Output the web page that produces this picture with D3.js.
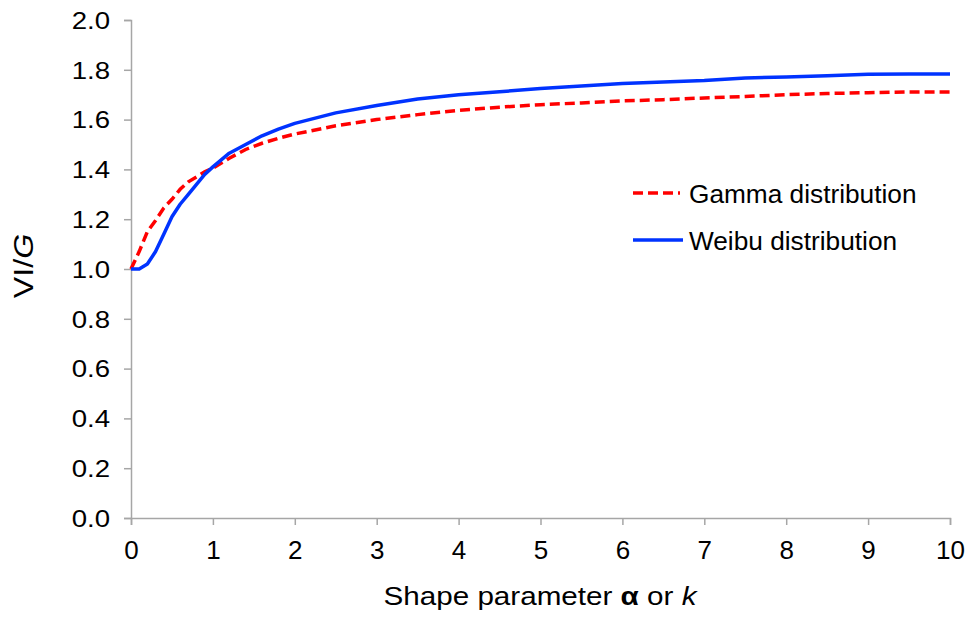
<!DOCTYPE html>
<html>
<head>
<meta charset="utf-8">
<script src="https://cdn.jsdelivr.net/npm/d3@7/dist/d3.min.js"></script>
<style>
  body { margin: 0; background: #fff; }
  text { font-family: "Liberation Sans", Arial, sans-serif; fill: #000; }
</style>
</head>
<body>
<div id="chart"></div>
<script>
// shape parameter values
const shapeX = [0, 0.1, 0.2, 0.3, 0.4, 0.5, 0.6, 0.7, 0.8, 0.9, 1.0,
  1.2, 1.4, 1.6, 1.8, 2.0, 2.5, 3.0, 3.5, 4.0, 4.5, 5.0, 5.5, 6.0,
  6.5, 7.0, 7.5, 8.0, 8.5, 9.0, 9.5, 10];

const gammaVals = [1.00, 1.07, 1.15, 1.195, 1.245, 1.28, 1.32, 1.35, 1.37, 1.39, 1.405,
  1.445, 1.48, 1.505, 1.525, 1.542, 1.575, 1.60, 1.62, 1.637, 1.65, 1.66, 1.667, 1.675,
  1.68, 1.687, 1.693, 1.70, 1.705, 1.708, 1.711, 1.711];

const weibuVals = [1.00, 1.00, 1.02, 1.07, 1.14, 1.21, 1.26, 1.30, 1.34, 1.38, 1.41,
  1.465, 1.50, 1.535, 1.562, 1.585, 1.627, 1.657, 1.683, 1.70, 1.712, 1.725, 1.735, 1.745,
  1.751, 1.757, 1.767, 1.771, 1.776, 1.782, 1.783, 1.783];

const xTicks = [0, 1, 2, 3, 4, 5, 6, 7, 8, 9, 10];
const yTicks = [0, 0.2, 0.4, 0.6, 0.8, 1.0, 1.2, 1.4, 1.6, 1.8, 2.0];

const seriesNames = ["Gamma distribution", "Weibu distribution"];

const w = 974;
const h = 620;
const plotLeft = 131, plotRight = 950, plotTop = 20, plotBottom = 518;

const svg = d3.select('#chart')
              .append('svg')
              .attr('width', w)
              .attr('height', h);

const x = d3.scaleLinear().domain([0, 10]).range([plotLeft, plotRight]);
const y = d3.scaleLinear().domain([0, 2]).range([plotBottom, plotTop]);

// the text in the original is a bit wider than plain Arial, stretch it sideways
const stretch = (sel, sx) => {
  sel.each(function() {
    const t = d3.select(this);
    const x0 = +t.attr('x') || 0;
    t.attr('x', x0 / sx).attr('transform', `scale(${sx},1)`);
  });
};

// axes
const xAxis = d3.axisBottom(x).tickValues(xTicks).tickSizeOuter(0).tickSize(7)
  .tickFormat(d3.format('d'));
const yAxis = d3.axisLeft(y).tickValues(yTicks).tickSizeOuter(0).tickSize(7).tickPadding(14)
  .tickFormat(d3.format('.1f'));

const gx = svg.append('g')
   .attr('transform', `translate(0, ${plotBottom})`)
   .call(xAxis);
const gy = svg.append('g')
   .attr('transform', `translate(${plotLeft}, 0)`)
   .call(yAxis);

[gx, gy].forEach(g => {
  g.selectAll('path, line').attr('stroke', '#a6a6a6').attr('stroke-width', 1.5);
  g.selectAll('text').style('font-family', '"Liberation Sans", Arial, sans-serif').attr('fill', '#000');
});
gx.selectAll('text').style('font-size', '26px').attr('y', 41).attr('dy', 0);
gy.selectAll('text').style('font-size', '23px').attr('dy', '0.36em');
stretch(gy.selectAll('text'), 1.2);

// lines
const line = vals => d3.line()
  .x((d, i) => x(shapeX[i]))
  .y(d => y(d))(vals);

svg.append('path')
   .attr('d', line(gammaVals))
   .attr('fill', 'none')
   .attr('stroke', '#ff0000')
   .attr('stroke-width', 3.5)
   .attr('stroke-dasharray', '10,5');

svg.append('path')
   .attr('d', line(weibuVals))
   .attr('fill', 'none')
   .attr('stroke', '#0033ff')
   .attr('stroke-width', 3.5)
   .attr('stroke-linejoin', 'round');

// legend
const legend = svg.append('g');
const legendStyles = [
  {color: '#ff0000', dash: '10,5', x2: 680},
  {color: '#0033ff', dash: null, x2: 683}
];
seriesNames.forEach((name, i) => {
  const ly = 193 + i * 47;
  legend.append('line')
    .attr('x1', 633).attr('x2', legendStyles[i].x2)
    .attr('y1', ly).attr('y2', ly)
    .attr('stroke', legendStyles[i].color)
    .attr('stroke-width', 3.5)
    .attr('stroke-dasharray', legendStyles[i].dash);
  const lt = legend.append('text')
    .attr('x', 689).attr('y', ly + 10)
    .style('font-size', '25px')
    .text(name);
  stretch(lt, 1.05);
});

// axis titles
const xt = svg.append('text')
   .attr('x', 540).attr('y', 605)
   .attr('text-anchor', 'middle')
   .style('font-size', '26px');
xt.append('tspan').text('Shape parameter ');
xt.append('tspan').attr('font-weight', 'bold').text('α');
xt.append('tspan').text(' or ');
xt.append('tspan').attr('font-style', 'italic').text('k');
stretch(xt, 1.14);

const yt = svg.append('text')
   .attr('transform', `translate(33, 266) rotate(-90) scale(1.15,1)`)
   .attr('text-anchor', 'middle')
   .style('font-size', '28px');
yt.append('tspan').text('VI/');
yt.append('tspan').attr('font-style', 'italic').text('G');
</script>
</body>
</html>
